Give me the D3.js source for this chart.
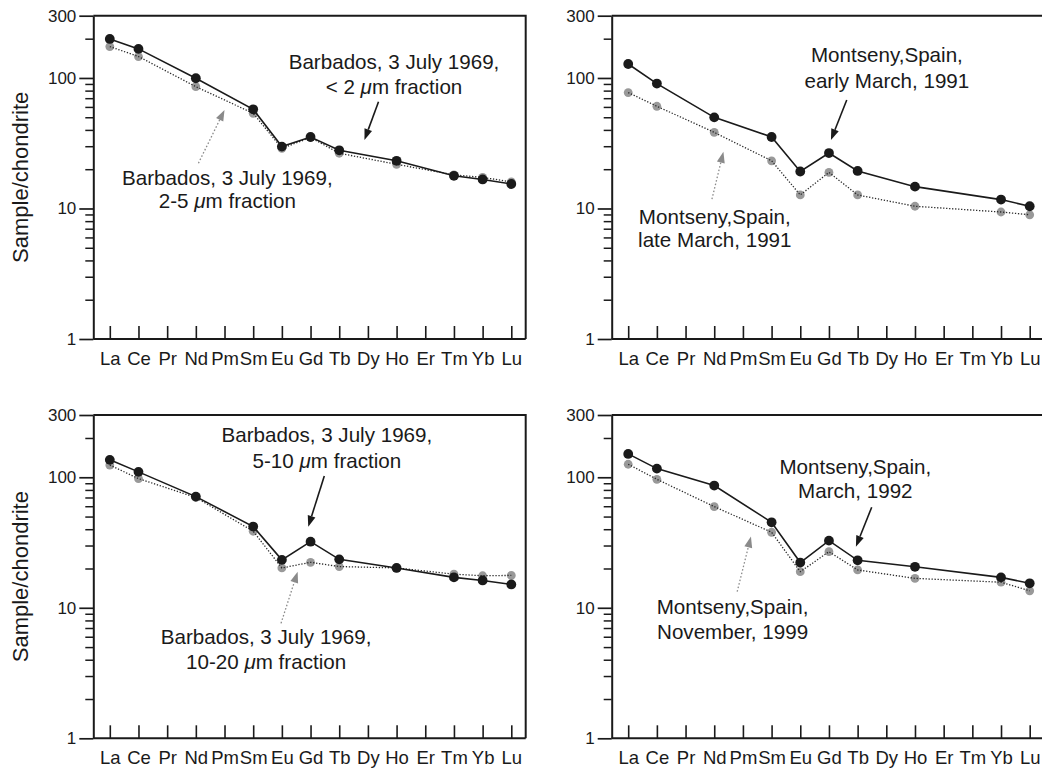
<!DOCTYPE html>
<html>
<head>
<meta charset="utf-8">
<script src="https://cdn.jsdelivr.net/npm/d3@7"></script>
<style>
  body { margin: 0; background: #fff; }
  svg { display: block; }
  text { font-family: "Liberation Sans", Arial, sans-serif; fill: #1a1a1a; }
</style>
</head>
<body>
<svg id="chart" width="1042" height="769"></svg>
<script>
// Rare earth elements, in order of atomic number
const elements = ["La","Ce","Pr","Nd","Pm","Sm","Eu","Gd","Tb","Dy","Ho","Er","Tm","Yb","Lu"];
const yTickLabels = [1, 10, 100, 300];
const yMinorTicks = [2,3,4,5,6,7,8,9,20,30,40,50,60,70,80,90,200];

// Chondrite-normalised concentrations (null = not measured)
//                     La   Ce   Pr   Nd   Pm   Sm   Eu   Gd   Tb   Dy   Ho   Er   Tm   Yb   Lu
const barbadosLt2    = [199, 167, null, 99.5, null, 57.5, 29.8, 35.3, 27.9, null, 23.2, null, 17.8, 16.7, 15.4];
const barbados2to5   = [174, 146, null, 85.8, null, 53.6, 28.9, 35.0, 26.5, null, 21.8, null, 18.1, 17.3, 16.0];
const barbados5to10  = [136, 110, null, 71.1, null, 41.9, 23.3, 32.1, 23.5, null, 20.2, null, 17.1, 16.2, 15.1];
const barbados10to20 = [124, 97.7, null, 70.0, null, 38.6, 20.2, 22.3, 20.7, null, 20.2, null, 18.1, 17.6, 17.7];
const montsenyEarlyMar91 = [128, 90.6, null, 49.9, null, 35.3, 19.2, 26.6, 19.4, null, 14.7, null, null, 11.7, 10.4];
const montsenyLateMar91  = [77.3, 60.7, null, 38.3, null, 23.2, 12.7, 18.9, 12.7, null, 10.4, null, null, 9.4, 8.95];
const montsenyMar92  = [151, 116.5, null, 86.4, null, 45.2, 22.2, 32.7, 23.1, null, 20.6, null, null, 17.1, 15.4];
const montsenyNov99  = [125.8, 96.5, null, 59.6, null, 37.9, 18.9, 26.9, 19.5, null, 16.8, null, null, 15.7, 13.5];

// Annotation text
const labelLt2   = ["Barbados, 3 July 1969,", ["< 2 ", "μ", "m fraction"]];
const label2to5  = ["Barbados, 3 July 1969,", ["2-5 ", "μ", "m fraction"]];
const label5to10 = ["Barbados, 3 July 1969,", ["5-10 ", "μ", "m fraction"]];
const label10to20 = ["Barbados, 3 July 1969,", ["10-20 ", "μ", "m fraction"]];
const labelEarlyMar91 = ["Montseny,Spain,", "early March, 1991"];
const labelLateMar91  = ["Montseny,Spain,", "late March, 1991"];
const labelMar92 = ["Montseny,Spain,", "March, 1992"];
const labelNov99 = ["Montseny,Spain,", "November, 1999"];

// Panel layout; annotation anchors are in data units (element index, ratio)
const panels = [
  { left: 93.3, top: 15.7, black: barbadosLt2, grey: barbados2to5,
    blackLabel: { text: labelLt2, x: 9.91, v: [118, 75.4] },
    blackArrow: { from: [9.37, 65.8], to: [8.88, 33.5] },
    greyLabel: { text: label2to5, x: 4.10, v: [15.1, 10.0] },
    greyArrow: { from: [3.09, 22.2], to: [4.0, 56.9] }, yTitle: true },
  { left: 611.7, top: 15.7, black: montsenyEarlyMar91, grey: montsenyLateMar91,
    blackLabel: { text: labelEarlyMar91, x: 9.02, v: [132.6, 83.8] },
    blackArrow: { from: [7.62, 67.8], to: [7.07, 33.5] },
    greyLabel: { text: labelLateMar91, x: 3.02, v: [7.65, 5.07] },
    greyArrow: { from: [2.92, 11.8], to: [3.32, 27.2] }, yTitle: false },
  { left: 93.3, top: 415, black: barbados5to10, grey: barbados10to20,
    blackLabel: { text: label5to10, x: 7.57, v: [186, 118.5] },
    blackArrow: { from: [7.48, 102.3], to: [6.92, 41.8] },
    greyLabel: { text: label10to20, x: 5.45, v: [5.31, 3.41] },
    greyArrow: { from: [5.97, 7.6], to: [6.55, 18.9] }, yTitle: true },
  { left: 611.7, top: 415, black: montsenyMar92, grey: montsenyNov99,
    blackLabel: { text: labelMar92, x: 7.92, v: [106.6, 69.8] },
    blackArrow: { from: [8.49, 58.9], to: [7.94, 29.4] },
    greyLabel: { text: labelNov99, x: 3.64, v: [8.92, 5.80] },
    greyArrow: { from: [3.80, 13.3], to: [4.28, 35.1] }, yTitle: false }
];

const W = 432.4, H = 323.3;
const ink = "#1a1a1a", greyDot = "#999", greyArrowCol = "#8a8a8a";
const fontFamily = '"Liberation Sans", Arial, sans-serif';
const svg = d3.select("#chart");

const x = d3.scalePoint().domain(elements).range([16.5, 418]);
const xi = d3.scaleLinear().domain([0, elements.length - 1]).range([16.5, 418]);
const y = d3.scaleLog().domain([1, 300]).range([H, 0]);

function seriesPoints(values) {
  return elements.map((e, i) => ({ e, v: values[i] })).filter(d => d.v != null);
}

function arrow(g, a, colour, dotted) {
  const x1 = xi(a.from[0]), y1 = y(a.from[1]);
  const x2 = xi(a.to[0]), y2 = y(a.to[1]);
  const ang = Math.atan2(y2 - y1, x2 - x1);
  const len = 11, hw = 4;
  const bx = x2 - len * Math.cos(ang), by = y2 - len * Math.sin(ang);
  g.append("line").attr("x1", x1).attr("y1", y1).attr("x2", bx).attr("y2", by)
    .attr("stroke", colour).attr("stroke-width", dotted ? 1.3 : 1.6)
    .attr("stroke-dasharray", dotted ? "1.6,2" : null);
  const px = -Math.sin(ang) * hw, py = Math.cos(ang) * hw;
  g.append("path")
    .attr("d", `M${x2},${y2}L${bx + px},${by + py}L${bx - px},${by - py}Z`)
    .attr("fill", colour);
}

function label(g, l) {
  l.text.forEach((line, k) => {
    const t = g.append("text").attr("x", xi(l.x)).attr("y", y(l.v[k]))
      .attr("text-anchor", "middle").attr("font-size", 20.6);
    if (Array.isArray(line)) {
      t.append("tspan").text(line[0]);
      t.append("tspan").attr("font-style", "italic").text(line[1]);
      t.append("tspan").text(line[2]);
    } else {
      t.text(line);
    }
  });
}

panels.forEach(p => {
  const g = svg.append("g").attr("transform", `translate(${p.left},${p.top})`);

  // minor ticks
  g.append("g").call(d3.axisLeft(y).tickValues(yMinorTicks).tickSize(8).tickSizeOuter(0).tickFormat(""))
    .call(s => s.select(".domain").remove())
    .call(s => s.selectAll("line").attr("stroke", ink).attr("stroke-width", 1.5));

  // major ticks with labels
  g.append("g").call(d3.axisLeft(y).tickValues(yTickLabels).tickSize(14).tickSizeOuter(0)
      .tickPadding(3).tickFormat(d3.format("d")))
    .call(s => s.select(".domain").attr("stroke", ink).attr("stroke-width", 2))
    .call(s => s.selectAll("line").attr("stroke", ink).attr("stroke-width", 1.7))
    .call(s => s.selectAll("text").attr("font-size", 17).attr("fill", ink)
      .style("font-family", fontFamily));

  // bottom axis with inward ticks
  g.append("g").attr("transform", `translate(0,${H})`)
    .call(d3.axisBottom(x).tickSize(-13).tickSizeOuter(0).tickPadding(12.5))
    .call(s => s.select(".domain").attr("d", `M0,0H${W}`).attr("stroke", ink).attr("stroke-width", 2))
    .call(s => s.selectAll("line").attr("stroke", ink).attr("stroke-width", 1.6))
    .call(s => s.selectAll("text").attr("font-size", 18.5).attr("fill", ink)
      .style("font-family", fontFamily));

  // frame: top and right
  g.append("path").attr("d", `M0,0H${W}V${H}`)
    .attr("fill", "none").attr("stroke", ink).attr("stroke-width", 2);

  if (p.yTitle) {
    g.append("text").attr("transform", `translate(${-65},${H / 2}) rotate(-90)`)
      .attr("text-anchor", "middle").attr("font-size", 22).text("Sample/chondrite");
  }

  const line = d3.line().x(d => x(d.e)).y(d => y(d.v));
  const grey = seriesPoints(p.grey), black = seriesPoints(p.black);

  g.selectAll(".gdot").data(grey).join("circle").attr("class", "gdot")
    .attr("cx", d => x(d.e)).attr("cy", d => y(d.v)).attr("r", 4.4).attr("fill", greyDot);
  g.append("path").datum(grey).attr("d", line).attr("fill", "none")
    .attr("stroke", "#2a2a2a").attr("stroke-width", 1.3).attr("stroke-dasharray", "1.3,1.7");
  g.append("path").datum(black).attr("d", line).attr("fill", "none")
    .attr("stroke", ink).attr("stroke-width", 1.6);
  g.selectAll(".bdot").data(black).join("circle").attr("class", "bdot")
    .attr("cx", d => x(d.e)).attr("cy", d => y(d.v)).attr("r", 4.9).attr("fill", ink);

  label(g, p.blackLabel);
  label(g, p.greyLabel);
  arrow(g, p.blackArrow, ink, false);
  arrow(g, p.greyArrow, greyArrowCol, true);
});
</script>
</body>
</html>
